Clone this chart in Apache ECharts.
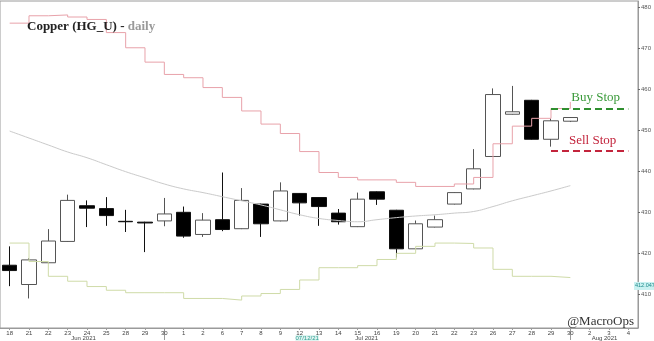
<!DOCTYPE html>
<html><head><meta charset="utf-8">
<script src="https://cdn.jsdelivr.net/npm/echarts@6/dist/echarts.min.js"></script>
<style>html,body{margin:0;padding:0;background:#fff}#c{width:654px;height:341px}</style>
</head><body><div id="c"></div>
<script>
const dates = ['2021-06-18','2021-06-21','2021-06-22','2021-06-23','2021-06-24','2021-06-25','2021-06-28','2021-06-29','2021-06-30','2021-07-01','2021-07-02','2021-07-06','2021-07-07','2021-07-08','2021-07-09','2021-07-12','2021-07-13','2021-07-14','2021-07-15','2021-07-16','2021-07-19','2021-07-20','2021-07-21','2021-07-22','2021-07-23','2021-07-26','2021-07-27','2021-07-28','2021-07-29','2021-07-30','2021-08-02','2021-08-03','2021-08-04'];
const openP  = [417.1,412.4,417.7,422.9,431.6,430.9,427.8,427.6,427.9,430.0,424.6,428.2,426.0,432.0,427.9,434.6,433.6,429.8,426.5,435.0,430.5,421.1,426.4,432.0,435.7,443.6,453.9,457.3,447.8,452.2];
const closeP = [415.8,418.4,423.0,432.9,431.0,429.2,427.7,427.4,429.6,424.2,428.1,425.8,432.9,427.2,435.2,432.3,431.4,427.7,433.2,433.2,421.1,427.2,428.2,434.8,440.6,458.7,454.5,447.8,452.3,453.1];
const lowP   = [412.0,409.0,417.5,422.8,426.4,426.7,425.2,420.3,426.6,423.8,424.0,425.4,425.9,424.0,427.8,429.2,426.7,427.0,426.4,431.8,419.0,421.0,426.3,431.9,435.6,443.5,453.8,447.7,446.0,452.0];
const highP  = [421.7,418.8,425.9,434.3,432.9,433.7,430.6,427.7,433.5,431.4,429.8,439.7,435.9,432.1,437.3,434.7,433.7,430.8,434.8,435.1,430.6,428.0,429.2,434.9,445.4,460.2,460.8,457.4,452.9,453.2];
const upperBand = [476.1,477.9,478.1,477.6,477.0,473.8,470.1,466.6,463.6,462.8,460.4,458.0,454.7,451.5,449.2,444.8,439.7,438.5,437.9,437.9,437.3,436.3,436.3,436.9,438.5,446.7,451.0,452.9,455.3,456.9];
const lowerBand = [422.5,418.0,414.4,413.2,411.9,411.0,410.4,410.4,410.4,409.0,409.0,408.6,409.6,410.2,411.2,413.5,416.5,416.5,417.0,418.5,420.0,421.7,422.5,422.4,421.3,416.1,414.4,414.4,414.1,414.1];
const movingAvg = [449.8,448.1,446.4,444.7,443.3,441.6,439.9,438.4,436.9,435.7,434.8,433.8,432.8,431.8,430.6,429.4,428.5,428.0,427.7,428.2,428.7,429.1,429.4,429.8,430.2,431.4,432.8,434.0,435.2,436.5];
const yTicks = [410,420,430,440,450,460,470,480];
const buyStop = 455.3;
const sellStop = 445.0;
const lastValueTag = 412.047;
const monthLabels = {4:'Jun 2021', 15:'07/12/21', 18:'Jul 2021', 31:'Aug 2021'};
const monthSeparators = [8, 29];

const candles = openP.map((o,i)=>[o, closeP[i], lowP[i], highP[i]]);
const serif = '"Liberation Serif", "DejaVu Serif", serif';

const chart = echarts.init(document.getElementById('c'), null, {renderer:'canvas'});
chart.setOption({
  animation:false,
  backgroundColor:'#fff',
  title:{
    text:'{a|Copper (HG_U) - }{b|daily}',
    left:27, top:20, padding:0,
    textStyle:{rich:{
      a:{fontFamily:serif, fontWeight:'bold', fontSize:13, color:'#222'},
      b:{fontFamily:serif, fontWeight:'bold', fontSize:13, color:'#9a9a9a'}
    }}
  },
  grid:{left:0, right:13, top:1, bottom:12, show:true, borderColor:'#9a9a9a', borderWidth:1},
  xAxis:[{
    type:'category', data:dates, boundaryGap:true,
    axisLine:{lineStyle:{color:'#9a9a9a'}},
    axisTick:{show:true, alignWithLabel:true, length:2, lineStyle:{color:'#9a9a9a'}},
    axisLabel:{interval:0, fontSize:6, color:'#444', margin:2, formatter:v=>String(+v.slice(8))},
    splitLine:{show:false}
  },{
    type:'category', data:dates, boundaryGap:true, position:'bottom',
    axisLine:{show:false},
    axisTick:{show:true, alignWithLabel:true, length:12, interval:(i)=>monthSeparators.includes(i), lineStyle:{color:'#9a9a9a'}},
    axisLabel:{interval:(i)=>monthLabels[i]!==undefined, fontSize:6, color:'#444', margin:7,
      formatter:(v,i)=>{
        const t = monthLabels[i];
        if (i===15) return '{sp|}{hl|'+t+'}';
        if (i===18) return '{sp2|}{n|'+t+'}';
        if (i===31) return '{n|'+t+'}{sp3|}';
        if (i===4) return '{n|'+t+'}{sp4|}';
        return t;
      },
      rich:{
        sp:{width:15}, sp2:{width:18}, sp3:{width:9}, sp4:{width:7},
        n:{fontSize:6, color:'#444'},
        hl:{fontSize:6, color:'#2a9d8f', backgroundColor:'#dff4f1'}
      }
    },
    splitLine:{show:false}
  }],
  yAxis:{
    type:'value', position:'right', min:401.8, max:481.5, scale:true,
    axisLine:{show:true, lineStyle:{color:'#9a9a9a'}},
    axisTick:{show:true, length:2, customValues:yTicks, lineStyle:{color:'#666'}},
    axisLabel:{fontSize:6, color:'#555', margin:3, customValues:yTicks},
    splitLine:{show:false}
  },
  graphic:[{
    type:'text', right:20, bottom:13,
    style:{text:'@MacroOps', font:'13px '+serif, fill:'#333'}
  }],
  series:[{
    type:'candlestick', data:candles, barWidth:15, z:2,
    itemStyle:{color:'#ffffff', color0:'#000000', borderColor:'#555555', borderColor0:'#111111', borderWidth:1},
    markLine:{
      silent:true, symbol:['none','none'],
      data:[
        [{coord:[28,buyStop], lineStyle:{color:'#2f8f2f', type:[7,4], width:2},
          label:{show:true, position:'insideMiddleTop', formatter:'Buy Stop', color:'#3a9a3a', fontFamily:serif, fontSize:13, distance:4, padding:[0,0,0,12]}},
         {coord:[32,buyStop]}],
        [{coord:[28,sellStop], lineStyle:{color:'#c3243c', type:[7,4], width:2},
          label:{show:true, position:'insideMiddleTop', formatter:'Sell Stop', color:'#c3243c', fontFamily:serif, fontSize:13, distance:4, padding:[0,0,0,6]}},
         {coord:[32,sellStop]}]
      ]
    }
  },{
    type:'line', data:upperBand, step:'end', symbol:'none', z:3,
    lineStyle:{color:'#e8a2aa', width:1}
  },{
    type:'line', data:lowerBand, step:'end', symbol:'none', z:3,
    lineStyle:{color:'#cfdba8', width:1},
    markLine:{silent:true, symbol:['none','none'],
      lineStyle:{color:'transparent', width:0},
      label:{show:true, position:'end', distance:-4, formatter:String(lastValueTag), fontSize:5.5, color:'#1f8a8a', backgroundColor:'#c9f1f1', padding:[1,1]},
      data:[{yAxis:lastValueTag}]}
  },{
    type:'line', data:movingAvg, smooth:true, symbol:'none', z:3,
    lineStyle:{color:'#cacaca', width:1}
  }]
});
</script></body></html>
